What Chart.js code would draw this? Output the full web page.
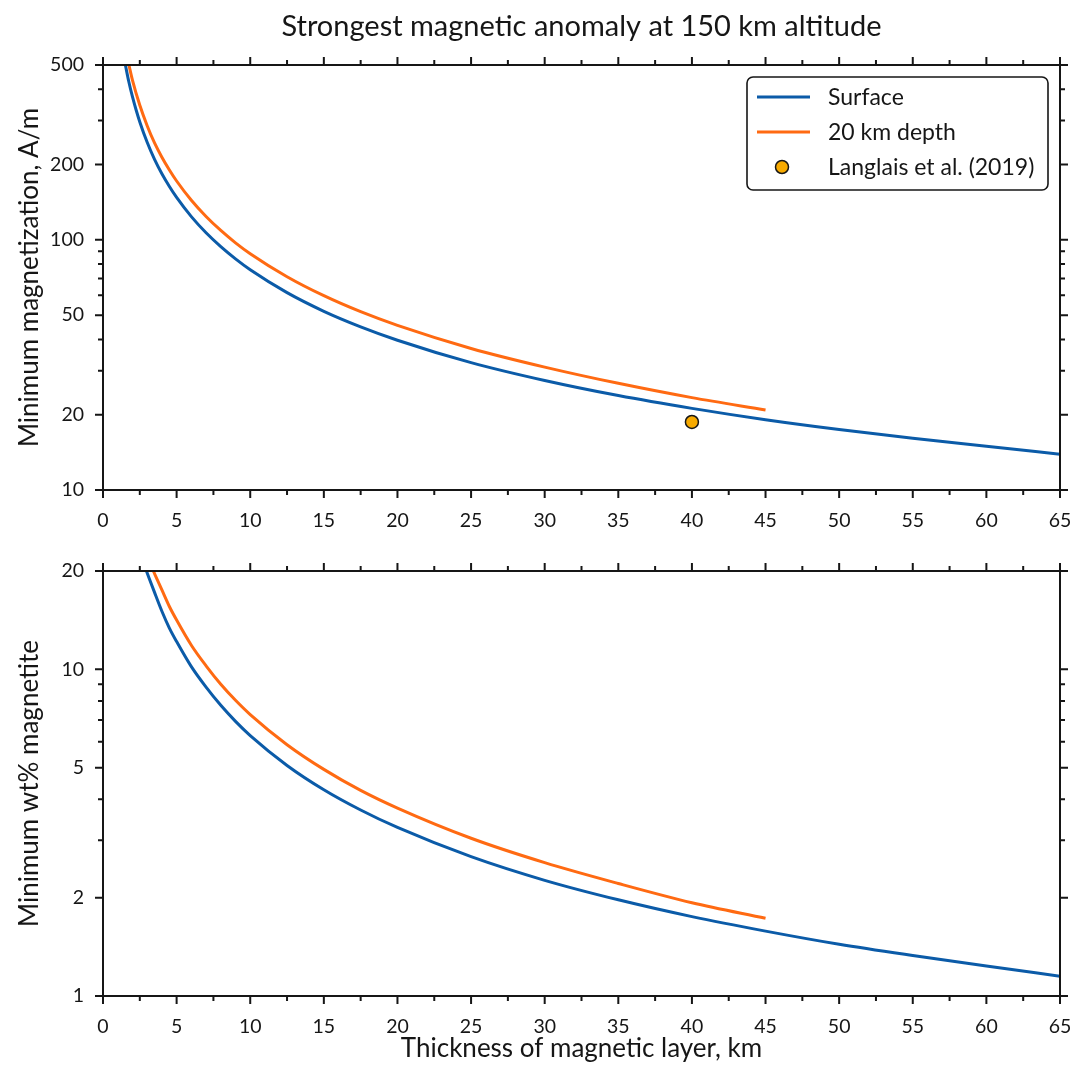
<!DOCTYPE html>
<html>
<head>
<meta charset="utf-8">
<script src="https://cdn.jsdelivr.net/npm/chart.js@4.4.1/dist/chart.umd.min.js"></script>
<style>
  body { margin: 0; background: #fff; }
  #wrap { position: relative; width: 1073px; height: 1073px; }
  canvas { position: absolute; left: 0; }
  #magChart { top: 0; }
  #wtChart { top: 545px; }
</style>
</head>
<body>
<div id="wrap">
  <canvas id="magChart" width="1073" height="545"></canvas>
  <canvas id="wtChart" width="1073" height="528"></canvas>
</div>
<script>
// layer thickness (km) vs minimum magnetization (A/m)
const surfaceThickness = [1.52, 1.75, 2, 2.25, 2.5, 3, 3.5, 4, 4.5, 5, 6, 7, 8, 9, 10, 12.5, 15, 17.5, 20, 25, 30, 35, 40, 45, 50, 55, 60, 65];
const surfaceMagnetization = [500, 429.6, 373.4, 330.4, 296.1, 245.4, 209.7, 183.7, 163.7, 147.7, 123.8, 106.7, 93.9, 83.9, 75.9, 61.5, 51.8, 44.9, 39.7, 32.3, 27.4, 23.85, 21.2, 19.1, 17.45, 16.1, 14.95, 13.9];
const depthThickness = [1.76, 2, 2.5, 3, 3.5, 4, 4.5, 5, 6, 7, 8, 9, 10, 12.5, 15, 17.5, 20, 25, 30, 35, 40, 45];
const depthMagnetization = [500, 435, 345, 286, 244, 214, 190.7, 171.9, 144, 124, 109, 97.3, 88.0, 71.2, 59.8, 51.6, 45.5, 36.8, 31.0, 26.7, 23.4, 20.9];

// same layers as minimum wt% magnetite
const surfaceWtThickness = [2.95, 3.5, 4, 4.5, 5, 6, 7, 8, 9, 10, 12.5, 15, 17.5, 20, 25, 30, 35, 40, 45, 50, 55, 60, 65];
const surfaceWt = [20, 17.2, 15.06, 13.4, 12.16, 10.19, 8.82, 7.76, 6.93, 6.27, 5.08, 4.28, 3.71, 3.28, 2.67, 2.26, 1.97, 1.75, 1.58, 1.44, 1.33, 1.235, 1.15];
const depthWtThickness = [3.42, 4, 4.5, 5, 6, 7, 8, 9, 10, 12.5, 15, 17.5, 20, 25, 30, 35, 40, 45];
const depthWt = [20, 17.5, 15.6, 14.15, 11.85, 10.25, 9.0, 8.04, 7.27, 5.88, 4.94, 4.26, 3.76, 3.04, 2.56, 2.21, 1.93, 1.73];

// Langlais et al. (2019)
const langlaisThickness = [40];
const langlaisMagnetization = [18.7];

// axis ticks
const magTicks = [10, 20, 30, 40, 50, 60, 70, 80, 90, 100, 200, 300, 400, 500];
const magLabels = [10, 20, 50, 100, 200, 500];
const wtTicks = [1, 2, 3, 4, 5, 6, 7, 8, 9, 10, 20];
const wtLabels = [1, 2, 5, 10, 20];

const BLUE = '#0b5ba8';
const ORANGE = '#ff6a12';
const INK = '#161616';
const FONT = 'Lato, "Open Sans", sans-serif';

Chart.defaults.font.family = FONT;
Chart.defaults.color = INK;

function toPoints(xs, ys) {
  return xs.map((x, i) => ({ x: x, y: ys[i] }));
}

// box around the plot, outward ticks on all four sides, and the legend
const frameTicks = {
  id: 'frameTicks',
  afterDatasetsDraw(chart, args, opts) {
    const { ctx, chartArea: a, scales: { x, y } } = chart;
    ctx.save();
    ctx.strokeStyle = INK;
    ctx.lineWidth = 2;
    ctx.strokeRect(a.left, a.top, a.right - a.left, a.bottom - a.top);
    ctx.beginPath();
    for (let t = 0; t <= 65; t += 2.5) {
      const px = x.getPixelForValue(t);
      const len = t % 5 === 0 ? 8 : 5;
      ctx.moveTo(px, a.bottom); ctx.lineTo(px, a.bottom + len);
      ctx.moveTo(px, a.top); ctx.lineTo(px, a.top - len);
    }
    opts.ticks.forEach(v => {
      const py = y.getPixelForValue(v);
      const len = opts.labels.includes(v) ? 8 : 5;
      ctx.moveTo(a.left, py); ctx.lineTo(a.left - len, py);
      ctx.moveTo(a.right, py); ctx.lineTo(a.right + len, py);
    });
    ctx.stroke();

    if (opts.legend) {
      const w = 301, h = 113;
      const left = a.right - 12 - w, top = a.top + 12;
      ctx.beginPath();
      ctx.roundRect(left, top, w, h, 6);
      ctx.fillStyle = '#fff';
      ctx.fill();
      ctx.lineWidth = 1.6;
      ctx.stroke();
      ctx.font = '23px ' + FONT;
      ctx.textBaseline = 'middle';
      chart.data.datasets.forEach((ds, i) => {
        const cy = top + 20 + i * 35;
        if (ds.showLine === false) {
          ctx.beginPath();
          ctx.arc(left + 35, cy, 6.5, 0, Math.PI * 2);
          ctx.fillStyle = ds.backgroundColor;
          ctx.fill();
          ctx.lineWidth = 1.5;
          ctx.strokeStyle = ds.borderColor;
          ctx.stroke();
        } else {
          ctx.beginPath();
          ctx.moveTo(left + 10, cy);
          ctx.lineTo(left + 63, cy);
          ctx.lineWidth = 3;
          ctx.strokeStyle = ds.borderColor;
          ctx.stroke();
        }
        ctx.fillStyle = INK;
        ctx.fillText(ds.label, left + 81, cy + 1);
      });
    }
    ctx.restore();
  }
};

// fixed axis sizes so both panels share the same plot box
function fixSize(prop, size) {
  return s => {
    s[prop] = size;
    s.paddingLeft = s.paddingRight = s.paddingTop = s.paddingBottom = 0;
  };
}

function xAxis(height, title) {
  return {
    type: 'linear',
    min: 0,
    max: 65,
    grid: { display: false, drawTicks: false },
    border: { display: false },
    ticks: { stepSize: 5, autoSkip: false, maxRotation: 0, padding: 19, font: { size: 19.5 } },
    title: title ? { display: true, text: title, font: { size: 26 }, padding: { top: 0, bottom: 9 } } : { display: false },
    afterFit: fixSize('height', height)
  };
}

function yAxis(min, max, ticks, labels, title) {
  return {
    type: 'logarithmic',
    min: min,
    max: max,
    grid: { display: false, drawTicks: false },
    border: { display: false },
    afterBuildTicks: s => { s.ticks = ticks.map(v => ({ value: v })); },
    ticks: {
      autoSkip: false,
      padding: 19,
      font: { size: 19.5 },
      callback: v => labels.includes(v) ? String(v) : ''
    },
    title: { display: true, text: title, font: { size: 26 }, padding: { top: 14, bottom: 0 } },
    afterFit: fixSize('width', 103)
  };
}

function lineSet(label, pts, color) {
  return {
    label: label,
    data: pts,
    borderColor: color,
    backgroundColor: color,
    borderWidth: 3,
    pointRadius: 0,
    cubicInterpolationMode: 'monotone',
    fill: false
  };
}

new Chart(document.getElementById('magChart'), {
  type: 'line',
  data: {
    datasets: [
      lineSet('Surface', toPoints(surfaceThickness, surfaceMagnetization), BLUE),
      lineSet('20 km depth', toPoints(depthThickness, depthMagnetization), ORANGE),
      {
        label: 'Langlais et al. (2019)',
        data: toPoints(langlaisThickness, langlaisMagnetization),
        showLine: false,
        pointRadius: 6.5,
        pointBorderWidth: 1.5,
        backgroundColor: '#f7aa00',
        borderColor: INK
      }
    ]
  },
  options: {
    responsive: false,
    animation: false,
    layout: { padding: { top: 0, right: 13, left: 0, bottom: 0 } },
    scales: {
      x: xAxis(55, null),
      y: yAxis(10, 500, magTicks, magLabels, 'Minimum magnetization, A/m')
    },
    plugins: {
      legend: { display: false },
      tooltip: { enabled: false },
      title: {
        display: true,
        text: 'Strongest magnetic anomaly at 150 km altitude',
        fullSize: false,
        color: INK,
        font: { size: 29, weight: 'normal' },
        padding: { top: 9.6, bottom: 20.6 }
      },
      frameTicks: { ticks: magTicks, labels: magLabels, legend: true }
    }
  },
  plugins: [frameTicks]
});

new Chart(document.getElementById('wtChart'), {
  type: 'line',
  data: {
    datasets: [
      lineSet('Surface', toPoints(surfaceWtThickness, surfaceWt), BLUE),
      lineSet('20 km depth', toPoints(depthWtThickness, depthWt), ORANGE)
    ]
  },
  options: {
    responsive: false,
    animation: false,
    layout: { padding: { top: 26, right: 13, left: 0, bottom: 0 } },
    scales: {
      x: xAxis(77, 'Thickness of magnetic layer, km'),
      y: yAxis(1, 20, wtTicks, wtLabels, 'Minimum wt% magnetite')
    },
    plugins: {
      legend: { display: false },
      tooltip: { enabled: false },
      frameTicks: { ticks: wtTicks, labels: wtLabels, legend: false }
    }
  },
  plugins: [frameTicks]
});
</script>
</body>
</html>
